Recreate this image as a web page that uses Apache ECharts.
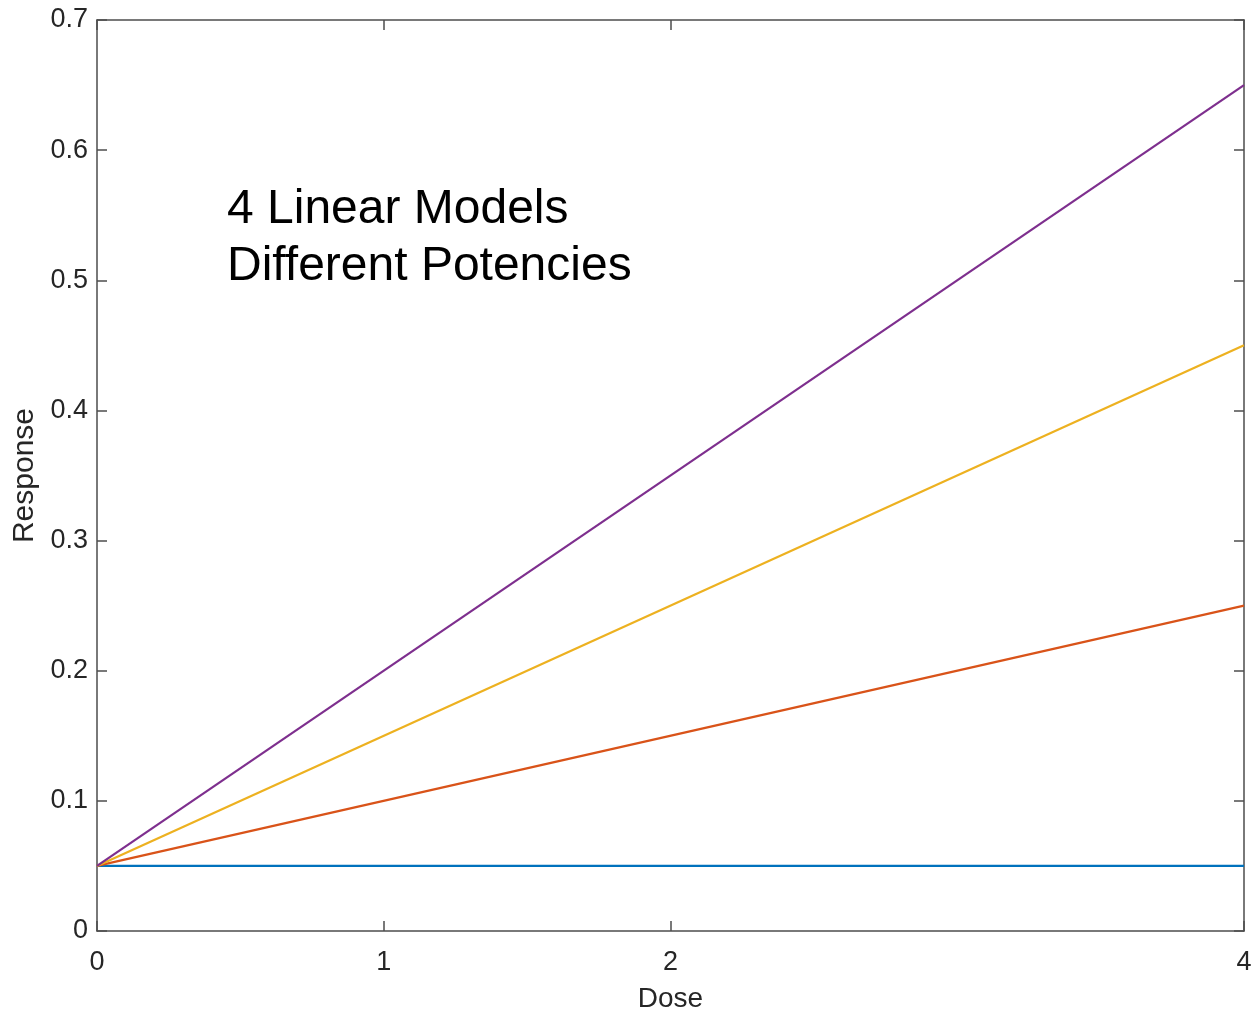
<!DOCTYPE html>
<html>
<head>
<meta charset="utf-8">
<script src="https://cdn.jsdelivr.net/npm/echarts@6/dist/echarts.min.js"></script>
<style>
  html, body { margin: 0; padding: 0; background: #ffffff; }
  #chart { width: 1257px; height: 1014px; }
</style>
</head>
<body>
<div id="chart"></div>
<script>
// Dose range shared by every linear model
const doses = [0, 4];

// Response at each dose for the four models (same intercept, different slopes)
const modelNames = ['Model 1', 'Model 2', 'Model 3', 'Model 4'];
const responseFlat = [0.05, 0.05];
const responseLow = [0.05, 0.25];
const responseMid = [0.05, 0.45];
const responseHigh = [0.05, 0.65];

// Tick positions
const doseTicks = [0, 1, 2, 4];
const responseMin = 0;
const responseMax = 0.7;
const responseStep = 0.1;

const annotationLines = ['4 Linear Models', 'Different Potencies'];

const FONT = '"Liberation Sans", Arial, Helvetica, sans-serif';
const INK = '#262626';
const AXIS = '#4d4d4d';

function pairs(xs, ys) {
  return xs.map((x, i) => [x, ys[i]]);
}

const palette = ['#0072BD', '#D95319', '#EDB120', '#7E2F8E'];
const seriesValues = [responseFlat, responseLow, responseMid, responseHigh];

const chart = echarts.init(document.getElementById('chart'), null, { renderer: 'canvas' });

chart.setOption({
  animation: false,
  backgroundColor: '#ffffff',
  grid: { left: 97, right: 13, top: 20, bottom: 83, containLabel: false, outerBoundsMode: 'none' },
  xAxis: [
    {
      type: 'value',
      position: 'bottom',
      min: 0,
      max: 4,
      name: 'Dose',
      nameLocation: 'middle',
      nameGap: 54,
      nameTextStyle: { fontFamily: FONT, fontSize: 28, color: INK },
      axisLine: { show: true, onZero: false, lineStyle: { color: AXIS, width: 1.5 } },
      axisTick: { show: true, inside: true, length: 10, customValues: doseTicks, lineStyle: { color: AXIS, width: 1.5 } },
      axisLabel: { show: true, customValues: doseTicks, margin: 18, fontFamily: FONT, fontSize: 27, color: INK },
      splitLine: { show: false }
    },
    {
      type: 'value',
      position: 'top',
      min: 0,
      max: 4,
      axisLine: { show: true, onZero: false, lineStyle: { color: AXIS, width: 1.5 } },
      axisTick: { show: true, inside: true, length: 10, customValues: doseTicks, lineStyle: { color: AXIS, width: 1.5 } },
      axisLabel: { show: false },
      splitLine: { show: false }
    }
  ],
  yAxis: [
    {
      type: 'value',
      position: 'left',
      min: responseMin,
      max: responseMax,
      interval: responseStep,
      name: 'Response',
      nameLocation: 'middle',
      nameGap: 52,
      nameTextStyle: { fontFamily: FONT, fontSize: 30, color: INK },
      axisLine: { show: true, onZero: false, lineStyle: { color: AXIS, width: 1.5 } },
      axisTick: { show: true, inside: true, length: 10, lineStyle: { color: AXIS, width: 1.5 } },
      axisLabel: { show: true, margin: 9, fontFamily: FONT, fontSize: 27, color: INK },
      splitLine: { show: false }
    },
    {
      type: 'value',
      position: 'right',
      min: responseMin,
      max: responseMax,
      interval: responseStep,
      axisLine: { show: true, onZero: false, lineStyle: { color: AXIS, width: 1.5 } },
      axisTick: { show: true, inside: true, length: 10, lineStyle: { color: AXIS, width: 1.5 } },
      axisLabel: { show: false },
      splitLine: { show: false }
    }
  ],
  series: seriesValues.map((vals, i) => ({
    name: modelNames[i],
    type: 'line',
    xAxisIndex: 0,
    yAxisIndex: 0,
    data: pairs(doses, vals),
    showSymbol: false,
    symbol: 'none',
    lineStyle: { color: palette[i], width: 2.2 },
    itemStyle: { color: palette[i] },
    z: 2 + i
  })),
  graphic: [
    {
      type: 'text',
      left: 227,
      top: 181,
      z: 10,
      style: {
        text: annotationLines.join('\n'),
        fontFamily: FONT,
        fontSize: 48,
        lineHeight: 57,
        fill: '#000000'
      }
    }
  ]
});
</script>
</body>
</html>
